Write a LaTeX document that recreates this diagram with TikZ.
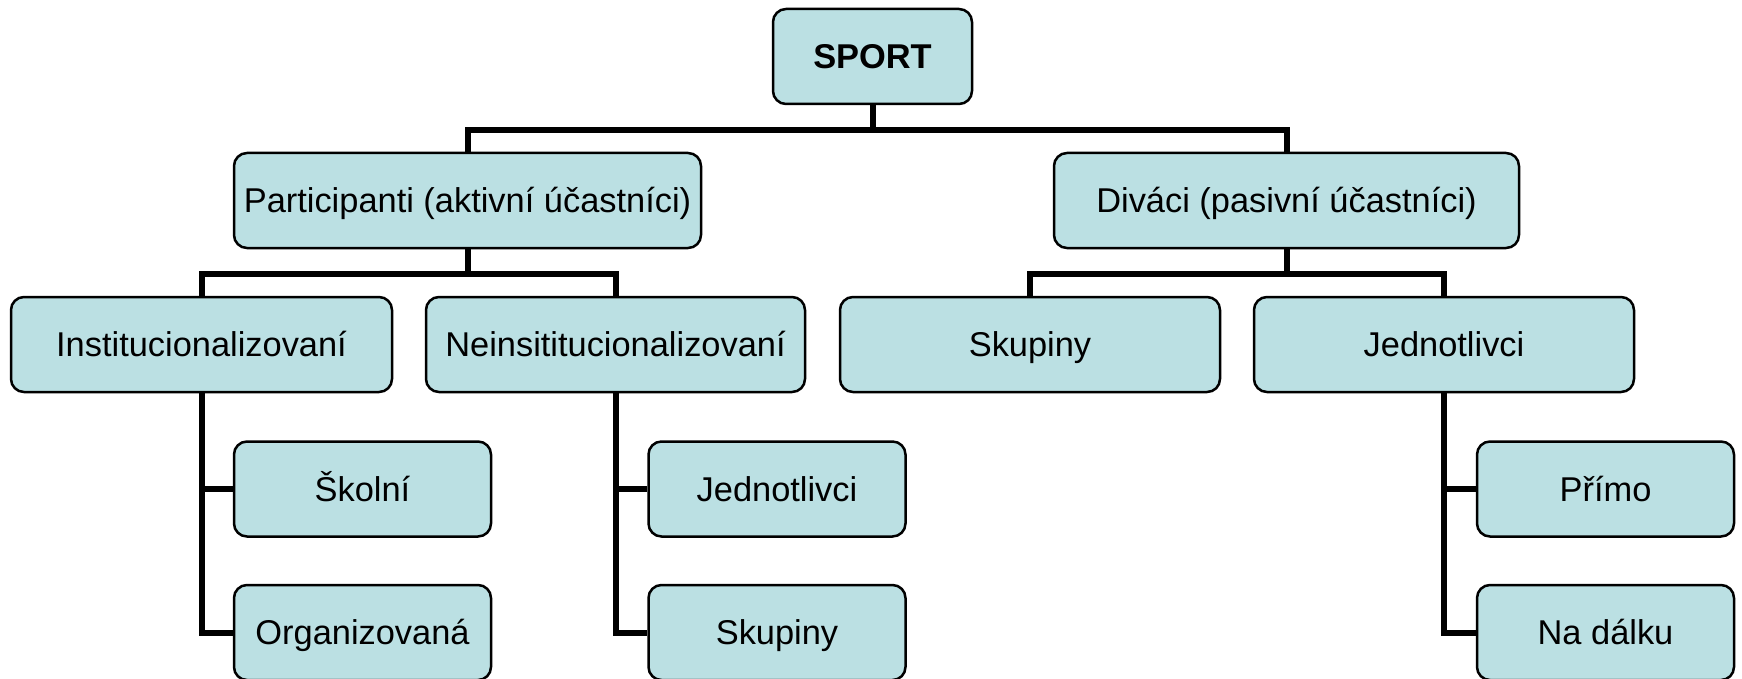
\documentclass[tikz,border=0pt]{standalone}
\usepackage{fontspec}
\setmainfont{Liberation Sans}
\definecolor{F}{RGB}{187, 224, 227}
\tikzset{
  caja/.style={draw, line width=2.5pt, fill=F, rounded corners=13pt,
    minimum height=95pt, inner sep=0pt, text height=24.6pt, text depth=0pt,
    font=\fontsize{34.4}{40}\selectfont},
  linea/.style={line width=6pt}
}
\begin{document}
\begin{tikzpicture}[x=1pt,y=-1pt]
   	\useasboundingbox (0,0) rectangle (1742,679);
   	\fill[color=white] (0,0) rectangle (1742,679);

	%Nodo raiz
   	\node[caja, minimum width=199pt, font=\fontsize{34.4}{40}\selectfont\bfseries] (sport) at (872.5,56.5) {SPORT};

	%Primer nivel
   	\node[caja, minimum width=467pt] (part) at (467.5,200.5) {Participanti (aktivní účastníci)};
   	\node[caja, minimum width=465pt] (divaci) at (1286.5,200.5) {Diváci (pasivní účastníci)};

	%Segundo nivel
   	\node[caja, minimum width=381pt] (inst) at (201.5,344.5) {Institucionalizovaní};
   	\node[caja, minimum width=379pt] (neinst) at (615.5,344.5) {Neinsititucionalizovaní};
   	\node[caja, minimum width=380pt] (skup) at (1030,344.5) {Skupiny};
   	\node[caja, minimum width=380pt] (jedn) at (1444,344.5) {Jednotlivci};

	%Tercer nivel
   	\node[caja, minimum width=257pt] (skol) at (362.5,489) {Školní};
   	\node[caja, minimum width=257pt] (org) at (362.5,632.5) {Organizovaná};
   	\node[caja, minimum width=257pt] (jedn2) at (777,489) {Jednotlivci};
   	\node[caja, minimum width=257pt] (skup2) at (777,632.5) {Skupiny};
   	\node[caja, minimum width=257pt] (primo) at (1605.5,489) {Přímo};
   	\node[caja, minimum width=257pt] (dalku) at (1605.5,632.5) {Na dálku};

	%Conexiones
   	\draw[linea] (sport.south) -- ++(0,24.5) -| (part.north);
   	\draw[linea] (sport.south) -- ++(0,24.5) -| (divaci.north);
   	\draw[linea] (part.south) -- ++(0,24.5) -| (inst.north);
   	\draw[linea] (part.south) -- ++(0,24.5) -| (neinst.north);
   	\draw[linea] (divaci.south) -- ++(0,24.5) -| (skup.north);
   	\draw[linea] (divaci.south) -- ++(0,24.5) -| (jedn.north);
   	\draw[linea] (inst.south) |- (skol.west);
   	\draw[linea] (inst.south) |- (org.west);
   	\draw[linea] (neinst.south) |- (jedn2.west);
   	\draw[linea] (neinst.south) |- (skup2.west);
   	\draw[linea] (jedn.south) |- (primo.west);
   	\draw[linea] (jedn.south) |- (dalku.west);
\end{tikzpicture}
\end{document}
